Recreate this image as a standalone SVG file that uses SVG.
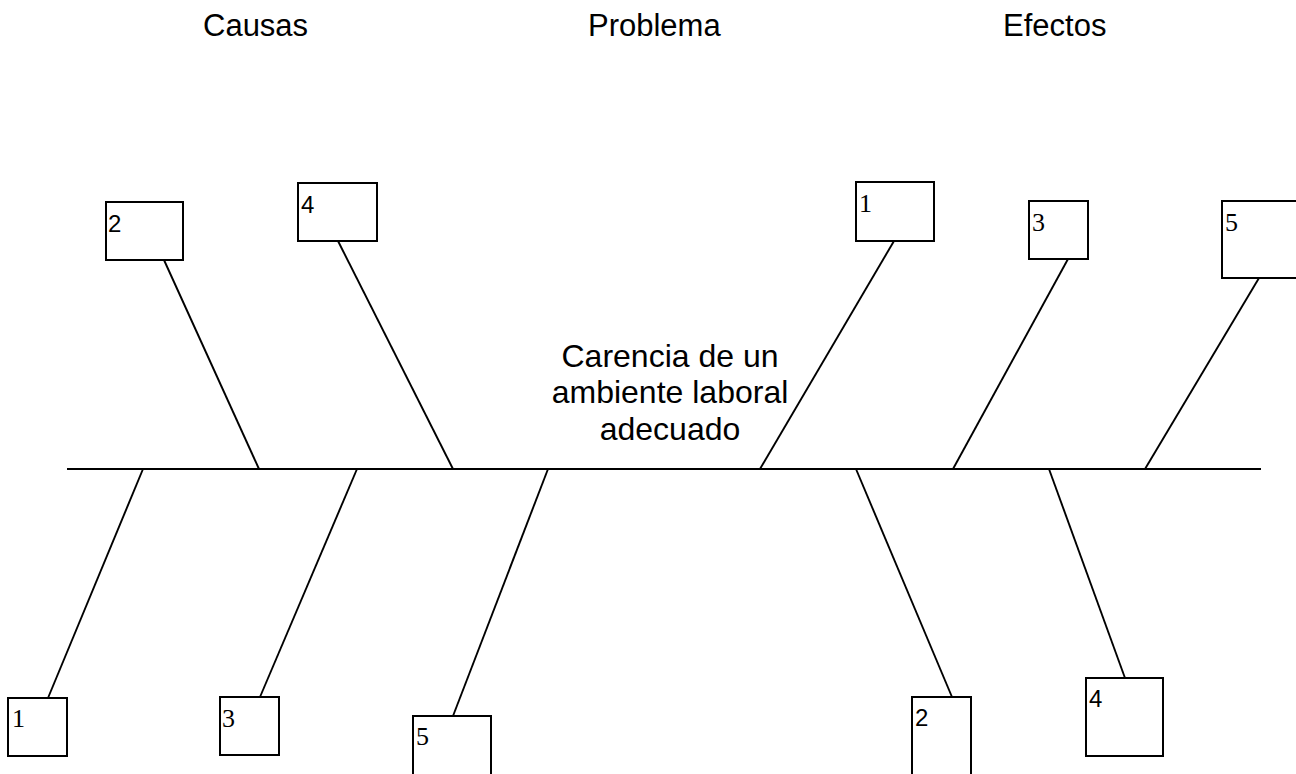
<svg xmlns="http://www.w3.org/2000/svg" width="1296" height="774" viewBox="0 0 1296 774">
<style>
.box{fill:#fff;stroke:#000;stroke-width:2}
.ln{stroke:#000;stroke-width:1.9;fill:none}
.hdr{font-family:"Liberation Sans",Arial,sans-serif;font-size:31px;fill:#000}
.ctr{font-family:"Liberation Sans",Arial,sans-serif;font-size:32px;fill:#000;text-anchor:middle}
.ns{font-family:"Liberation Sans",Arial,sans-serif;font-size:24px;fill:#000}
.nr{font-family:"Liberation Serif","Times New Roman",serif;font-size:26px;fill:#000}
</style>
<rect width="1296" height="774" fill="#fff"/>
<g id="headers">
<text class="hdr" x="203" y="36">Causas</text>
<text class="hdr" x="588" y="36">Problema</text>
<text class="hdr" x="1003" y="36">Efectos</text>
</g>
<g id="connectors">
<line class="ln" x1="67" y1="469" x2="1261" y2="469"/>
<line class="ln" x1="164" y1="260" x2="259" y2="469"/>
<line class="ln" x1="338" y1="241" x2="453" y2="469"/>
<line class="ln" x1="894" y1="241" x2="760" y2="469"/>
<line class="ln" x1="1068" y1="259" x2="953" y2="469"/>
<line class="ln" x1="1259" y1="278" x2="1145" y2="469"/>
<line class="ln" x1="143" y1="469" x2="48" y2="698"/>
<line class="ln" x1="357" y1="469" x2="260" y2="697"/>
<line class="ln" x1="548" y1="469" x2="453" y2="716"/>
<line class="ln" x1="856" y1="469" x2="952" y2="697"/>
<line class="ln" x1="1049" y1="469" x2="1125" y2="678"/>
</g>
<g id="problem">
<text class="ctr" x="670" y="367">Carencia de un</text>
<text class="ctr" x="670" y="403">ambiente laboral</text>
<text class="ctr" x="670" y="440">adecuado</text>
</g>
<g id="cause-top-2"><rect class="box" x="106" y="202" width="77" height="58"/><text class="ns" x="108" y="232">2</text></g>
<g id="cause-top-4"><rect class="box" x="298" y="183" width="79" height="58"/><text class="ns" x="301" y="213">4</text></g>
<g id="cause-bottom-1"><rect class="box" x="8" y="698" width="59" height="58"/><text class="nr" x="12" y="727">1</text></g>
<g id="cause-bottom-3"><rect class="box" x="220" y="697" width="59" height="58"/><text class="nr" x="222" y="727">3</text></g>
<g id="cause-bottom-5"><rect class="box" x="413" y="716" width="78" height="70"/><text class="nr" x="416" y="745">5</text></g>
<g id="effect-top-1"><rect class="box" x="856" y="182" width="78" height="59"/><text class="nr" x="859" y="212">1</text></g>
<g id="effect-top-3"><rect class="box" x="1029" y="201" width="59" height="58"/><text class="nr" x="1032" y="231">3</text></g>
<g id="effect-top-5"><rect class="box" x="1222" y="201" width="90" height="77"/><text class="nr" x="1225" y="231">5</text></g>
<g id="effect-bottom-2"><rect class="box" x="912" y="697" width="59" height="90"/><text class="ns" x="915" y="726">2</text></g>
<g id="effect-bottom-4"><rect class="box" x="1086" y="678" width="77" height="78"/><text class="ns" x="1089" y="707">4</text></g>
</svg>
